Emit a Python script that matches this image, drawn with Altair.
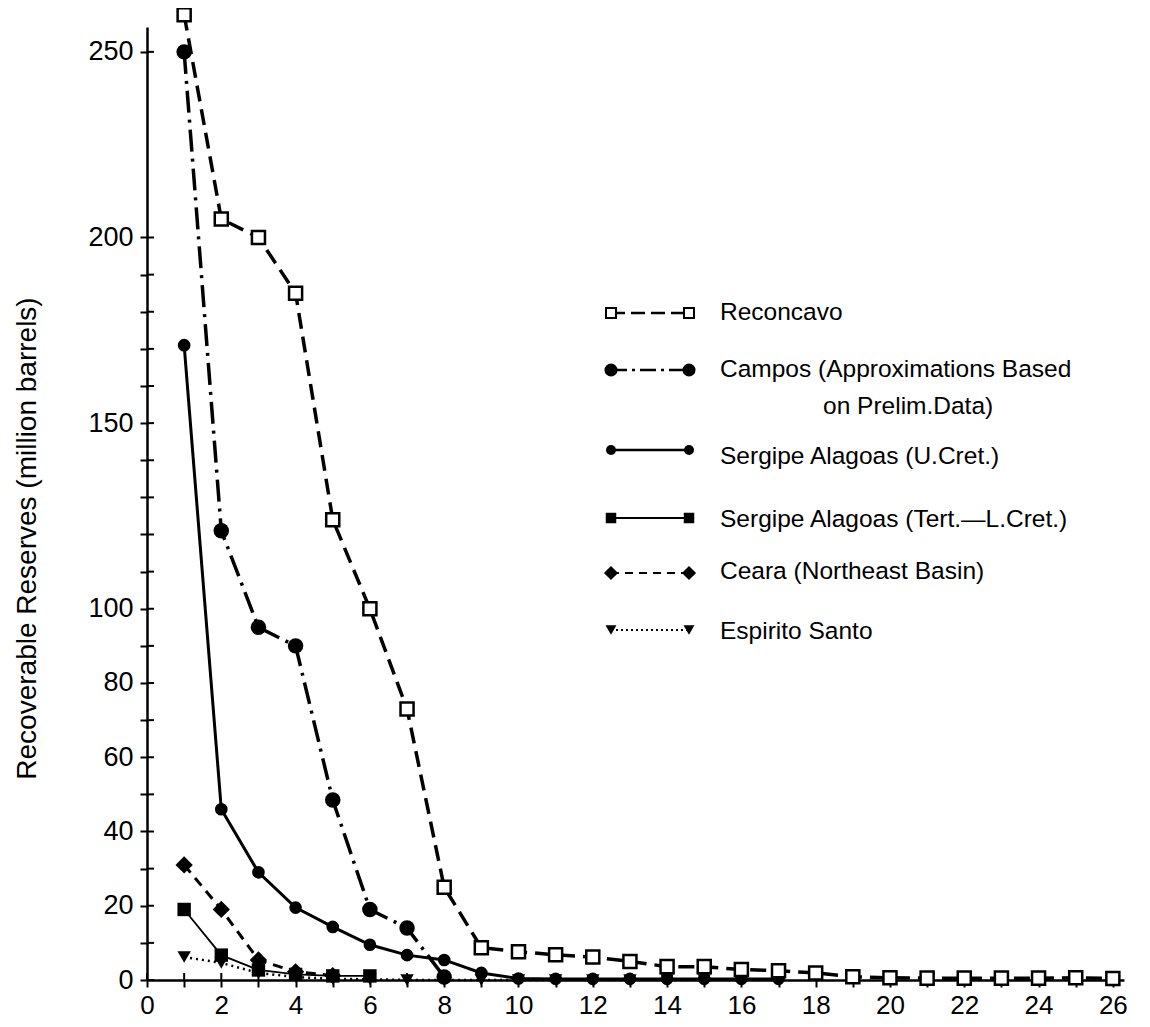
import altair as alt
import pandas as pd

# ---------------- data ----------------
series_names = [
    "Reconcavo",
    "Campos",
    "Sergipe Alagoas (U.Cret.)",
    "Sergipe Alagoas (Tert.\u2014L.Cret.)",
    "Ceara (Northeast Basin)",
    "Espirito Santo",
]
reconcavo = [260, 205, 200, 185, 124, 100, 73, 25, 8.7, 7.6, 6.8, 6.2, 5.0,
             3.6, 3.6, 2.8, 2.5, 1.9, 0.9, 0.6, 0.5, 0.5, 0.5, 0.5, 0.6, 0.4]
campos = [250, 121, 95, 90, 48.5, 19, 14, 0.8]
sergipe_u = [171, 46, 29, 19.5, 14.3, 9.5, 6.7, 5.4, 1.9, 0.4, 0.3, 0.3, 0.3,
             0.3, 0.3, 0.3, 0.3]
sergipe_t = [19, 6.7, 2.7, 1.5, 1.1, 1.1]
ceara = [31, 19, 5.4, 2.2, 1.2]
espirito = [6.2, 4.6, 1.9, 0.8, 0.3, 0.2, 0, 0, 0, 0, 0, 0, 0, 0, 0, 0, 0]

legend_labels = [
    "Reconcavo",
    "Campos (Approximations Based",
    "Sergipe Alagoas (U.Cret.)",
    "Sergipe Alagoas (Tert.\u2014L.Cret.)",
    "Ceara (Northeast Basin)",
    "Espirito Santo",
]
legend_extra_line = "on Prelim.Data)"

x_ticks = list(range(0, 27))
y_ticks = list(range(0, 201, 10)) + [250]

all_values = [reconcavo, campos, sergipe_u, sergipe_t, ceara, espirito]
rows = []
for name, vals in zip(series_names, all_values):
    for i, v in enumerate(vals):
        rows.append({"series": name, "n": i + 1, "value": v})
df = pd.DataFrame(rows)
legend_df = pd.DataFrame({"series": series_names, "label": legend_labels})
xtick_df = pd.DataFrame({"t": x_ticks})
ytick_df = pd.DataFrame({"t": y_ticks})

# ---------------- styling ----------------
FONT = "Liberation Sans"
STYLE = {
    "Reconcavo": dict(dash=[16, 8], width=3.5, shape="square", fill="white", size=170,
                      lsize=100, ldash=[14, 6], lwidth=2.5),
    "Campos": dict(dash=[22, 7, 3, 7], width=3.5, shape="circle", fill="black", size=240,
                   lsize=170, ldash=[16, 5, 3, 5], lwidth=2.5),
    "Sergipe Alagoas (U.Cret.)": dict(dash=None, width=3, shape="circle", fill="black", size=160,
                                      lsize=100, ldash=None, lwidth=2.5),
    "Sergipe Alagoas (Tert.\u2014L.Cret.)": dict(dash=None, width=1.8, shape="square", fill="black",
                                            size=180, lsize=110, ldash=None, lwidth=1.8),
    "Ceara (Northeast Basin)": dict(dash=[10, 7], width=3, shape="diamond", fill="black", size=300,
                                    lsize=200, ldash=[8, 6], lwidth=2),
    "Espirito Santo": dict(dash=[2, 4], width=2.5, shape="triangle-down", fill="black", size=180,
                           lsize=120, ldash=[2, 3], lwidth=2),
}
# legend layout in plot-area pixels: (marker row y, text y)
LEG_Y = {
    "Reconcavo": (286, 286),
    "Campos": (343, 343),
    "Sergipe Alagoas (U.Cret.)": (423, 430),
    "Sergipe Alagoas (Tert.\u2014L.Cret.)": (491, 493),
    "Ceara (Northeast Basin)": (546, 545),
    "Espirito Santo": (603, 605),
}
LEG_X1, LEG_X2, LEG_TX = 464, 542, 573
EXTRA_X, EXTRA_Y = 676, 380
LEG_FS = 24.5

W, H = 977, 953
xs = alt.Scale(domain=[0, 26.3], nice=False, zero=False)
ys = alt.Scale(domain=[0, 256.7], nice=False, zero=False)

x_main = alt.Axis(orient="bottom", values=x_ticks,
                  labelExpr="datum.value % 2 == 0 ? datum.label : ''",
                  tickSize=7, tickWidth=2, tickColor="black", domainColor="black",
                  domainWidth=2.5, labelFont=FONT, labelFontSize=26, labelColor="black",
                  labelPadding=5, grid=False, title=None, labelFlush=False)
y_main = alt.Axis(orient="left", values=y_ticks,
                  labelExpr="(datum.value <= 100 && datum.value % 20 == 0) || (datum.value > 100 && datum.value % 50 == 0) ? datum.label : ''",
                  tickSize=7, tickWidth=2, tickColor="black", domainColor="black",
                  domainWidth=2.5, labelFont=FONT, labelFontSize=27, labelColor="black",
                  labelPadding=7, grid=False, labelFlush=False,
                  title="Recoverable Reserves (million barrels)", titleFont=FONT,
                  titleFontSize=28, titleFontWeight="normal", titleColor="black",
                  titleX=-120, titleY=511, titleAngle=270, titleBaseline="middle",
                  titleAlign="center")

base = alt.Chart(df)
layers = []

# axis carrier layer (invisible)
layers.append(base.transform_filter(alt.datum.series == "Reconcavo").mark_point(opacity=0).encode(
    x=alt.X("n:Q", scale=xs, axis=x_main), y=alt.Y("value:Q", scale=ys, axis=y_main)))

# inward halves of the crossing tick marks
layers.append(alt.Chart(ytick_df).mark_rule(color="black", strokeWidth=2).encode(
    y=alt.Y("t:Q", scale=ys, axis=None), x=alt.value(0), x2=alt.value(7)))
layers.append(alt.Chart(xtick_df).mark_rule(color="black", strokeWidth=2).encode(
    x=alt.X("t:Q", scale=xs, axis=None), y=alt.value(H - 7), y2=alt.value(H)))

X = alt.X("n:Q", scale=xs, axis=None)
Y = alt.Y("value:Q", scale=ys, axis=None)

draw_order = list(reversed(series_names))
for name in draw_order:
    st = STYLE[name]
    kw = dict(color="black", strokeWidth=st["width"], strokeCap="butt")
    if st["dash"]:
        kw["strokeDash"] = st["dash"]
    layers.append(base.transform_filter(alt.datum.series == name).mark_line(**kw).encode(x=X, y=Y))
for name in draw_order:
    st = STYLE[name]
    if st["fill"] == "white":
        pk = dict(shape=st["shape"], filled=True, fill="white", stroke="black", strokeWidth=2.5,
                  size=st["size"], opacity=1, fillOpacity=1)
    else:
        pk = dict(shape=st["shape"], filled=True, color="black", size=st["size"], opacity=1)
    layers.append(base.transform_filter(alt.datum.series == name).mark_point(**pk).encode(x=X, y=Y))

# custom legend
lbase = alt.Chart(legend_df)
for name in series_names:
    st = STYLE[name]
    ym, yt = LEG_Y[name]
    sub = lbase.transform_filter(alt.datum.series == name)
    rk = dict(color="black", strokeWidth=st["lwidth"])
    if st["ldash"]:
        rk["strokeDash"] = st["ldash"]
    layers.append(sub.mark_rule(**rk).encode(x=alt.value(LEG_X1), x2=alt.value(LEG_X2), y=alt.value(ym)))
    for xx in (LEG_X1, LEG_X2):
        if st["fill"] == "white":
            pk = dict(shape=st["shape"], filled=True, fill="white", stroke="black", strokeWidth=2,
                      size=st["lsize"], opacity=1)
        else:
            pk = dict(shape=st["shape"], filled=True, color="black", size=st["lsize"], opacity=1)
        layers.append(sub.mark_point(**pk).encode(x=alt.value(xx), y=alt.value(ym)))
    layers.append(sub.mark_text(align="left", baseline="middle", font=FONT, fontSize=LEG_FS,
                                color="black").encode(x=alt.value(LEG_TX), y=alt.value(yt),
                                                      text="label:N"))
layers.append(lbase.transform_filter(alt.datum.series == "Campos").mark_text(
    align="left", baseline="middle", font=FONT, fontSize=LEG_FS, color="black").encode(
    x=alt.value(EXTRA_X), y=alt.value(EXTRA_Y), text=alt.value(legend_extra_line)))

chart = alt.layer(*layers).resolve_axis(x="independent", y="independent").properties(
    width=W, height=H,
    autosize=alt.AutoSizeParams(type="none"),
    padding={"left": 139, "top": 19, "right": 10, "bottom": 40},
    background="white",
).configure_view(stroke=None)

chart.save("out.html", embed_options={"renderer": "svg", "actions": False})
